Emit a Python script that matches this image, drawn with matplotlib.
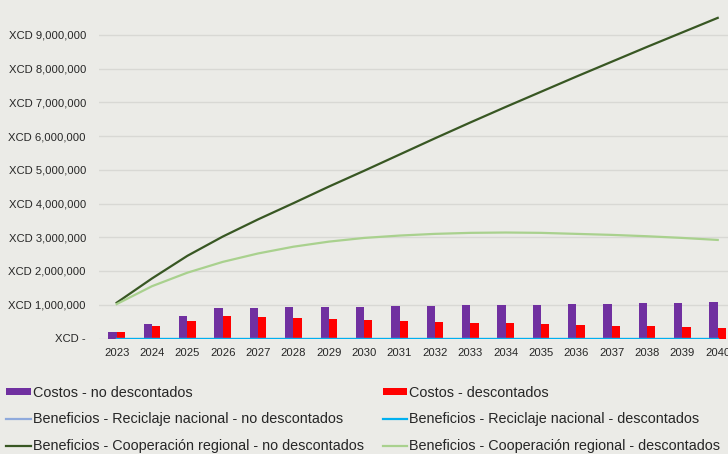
import matplotlib
matplotlib.use('Agg')
import matplotlib.pyplot as plt
import numpy as np
from matplotlib.ticker import FuncFormatter

plt.rcParams['font.family'] = ['Liberation Sans', 'DejaVu Sans']

# Data (XCD)
years = list(range(2023, 2041))
costos_no_desc = [0.20e6, 0.44e6, 0.66e6, 0.90e6, 0.91e6, 0.92e6, 0.93e6, 0.94e6, 0.95e6,
                  0.96e6, 0.98e6, 0.99e6, 1.00e6, 1.02e6, 1.03e6, 1.05e6, 1.06e6, 1.08e6]
costos_desc = [0.19e6, 0.38e6, 0.53e6, 0.68e6, 0.65e6, 0.61e6, 0.58e6, 0.555e6, 0.525e6,
               0.495e6, 0.47e6, 0.445e6, 0.425e6, 0.405e6, 0.38e6, 0.36e6, 0.34e6, 0.32e6]
recic_no_desc = [0] * 18
recic_desc = [0] * 18
coop_no_desc = [1.06e6, 1.78e6, 2.45e6, 3.02e6, 3.53e6, 4.01e6, 4.50e6, 4.97e6, 5.45e6,
                5.93e6, 6.40e6, 6.86e6, 7.31e6, 7.76e6, 8.20e6, 8.64e6, 9.07e6, 9.50e6]
coop_desc = [1.02e6, 1.55e6, 1.95e6, 2.27e6, 2.52e6, 2.72e6, 2.87e6, 2.98e6, 3.05e6,
             3.10e6, 3.13e6, 3.14e6, 3.13e6, 3.10e6, 3.07e6, 3.03e6, 2.98e6, 2.92e6]

bg = '#EBEBE7'
txt = '#262626'

fig = plt.figure(figsize=(7.28, 4.54), dpi=100, facecolor=bg)
ax = fig.add_axes([99 / 728, 1 - 338.5 / 454, 636.4 / 728, 337.5 / 454])
ax.set_facecolor(bg)

x = np.arange(len(years))
w = 0.235
b1 = ax.bar(x - w / 2, costos_no_desc, w, color='#7030A0', zorder=2,
            label='Costos - no descontados')
b2 = ax.bar(x + w / 2, costos_desc, w, color='#FF0000', zorder=2,
            label='Costos - descontados')
l1, = ax.plot(x, recic_no_desc, color='#8FAADC', lw=1.6, zorder=3,
              label='Beneficios - Reciclaje nacional - no descontados')
l2, = ax.plot(x, recic_desc, color='#00B0F0', lw=1.6, zorder=3,
              label='Beneficios - Reciclaje nacional - descontados')
l3, = ax.plot(x, coop_no_desc, color='#385723', lw=1.6, zorder=3,
              label='Beneficios - Cooperación regional - no descontados')
l4, = ax.plot(x, coop_desc, color='#A9D18E', lw=1.6, zorder=3,
              label='Beneficios - Cooperación regional - descontados')

ax.set_xlim(-0.5, len(years) - 0.5)
ax.set_ylim(0, 10e6)
ax.set_yticks(np.arange(0, 10e6, 1e6))
ax.yaxis.set_major_formatter(FuncFormatter(
    lambda v, p: 'XCD -' if v == 0 else 'XCD {:,.0f}'.format(v)))
ax.set_xticks(x)
ax.set_xticklabels([str(y) for y in years])
ax.tick_params(length=0, labelsize=8.1, colors=txt)
ax.tick_params(axis='y', pad=9.4)
ax.tick_params(axis='x', pad=7)
ax.grid(axis='y', color='#D8D8D4', lw=1, zorder=0)
ax.set_axisbelow(True)
for s in ax.spines.values():
    s.set_visible(False)

handles = [b1, l1, l3, b2, l2, l4]
fig.legend(handles, [h.get_label() for h in handles], ncol=2,
           loc='upper left', bbox_to_anchor=(6 / 728, 1 - 386 / 454),
           frameon=False, fontsize=10.4, borderpad=0, borderaxespad=0,
           handlelength=1.7, handletextpad=0.15, labelspacing=0.86,
           columnspacing=1.31, labelcolor=txt, handleheight=0.35)

fig.savefig('out.png', dpi=100, facecolor=bg)
